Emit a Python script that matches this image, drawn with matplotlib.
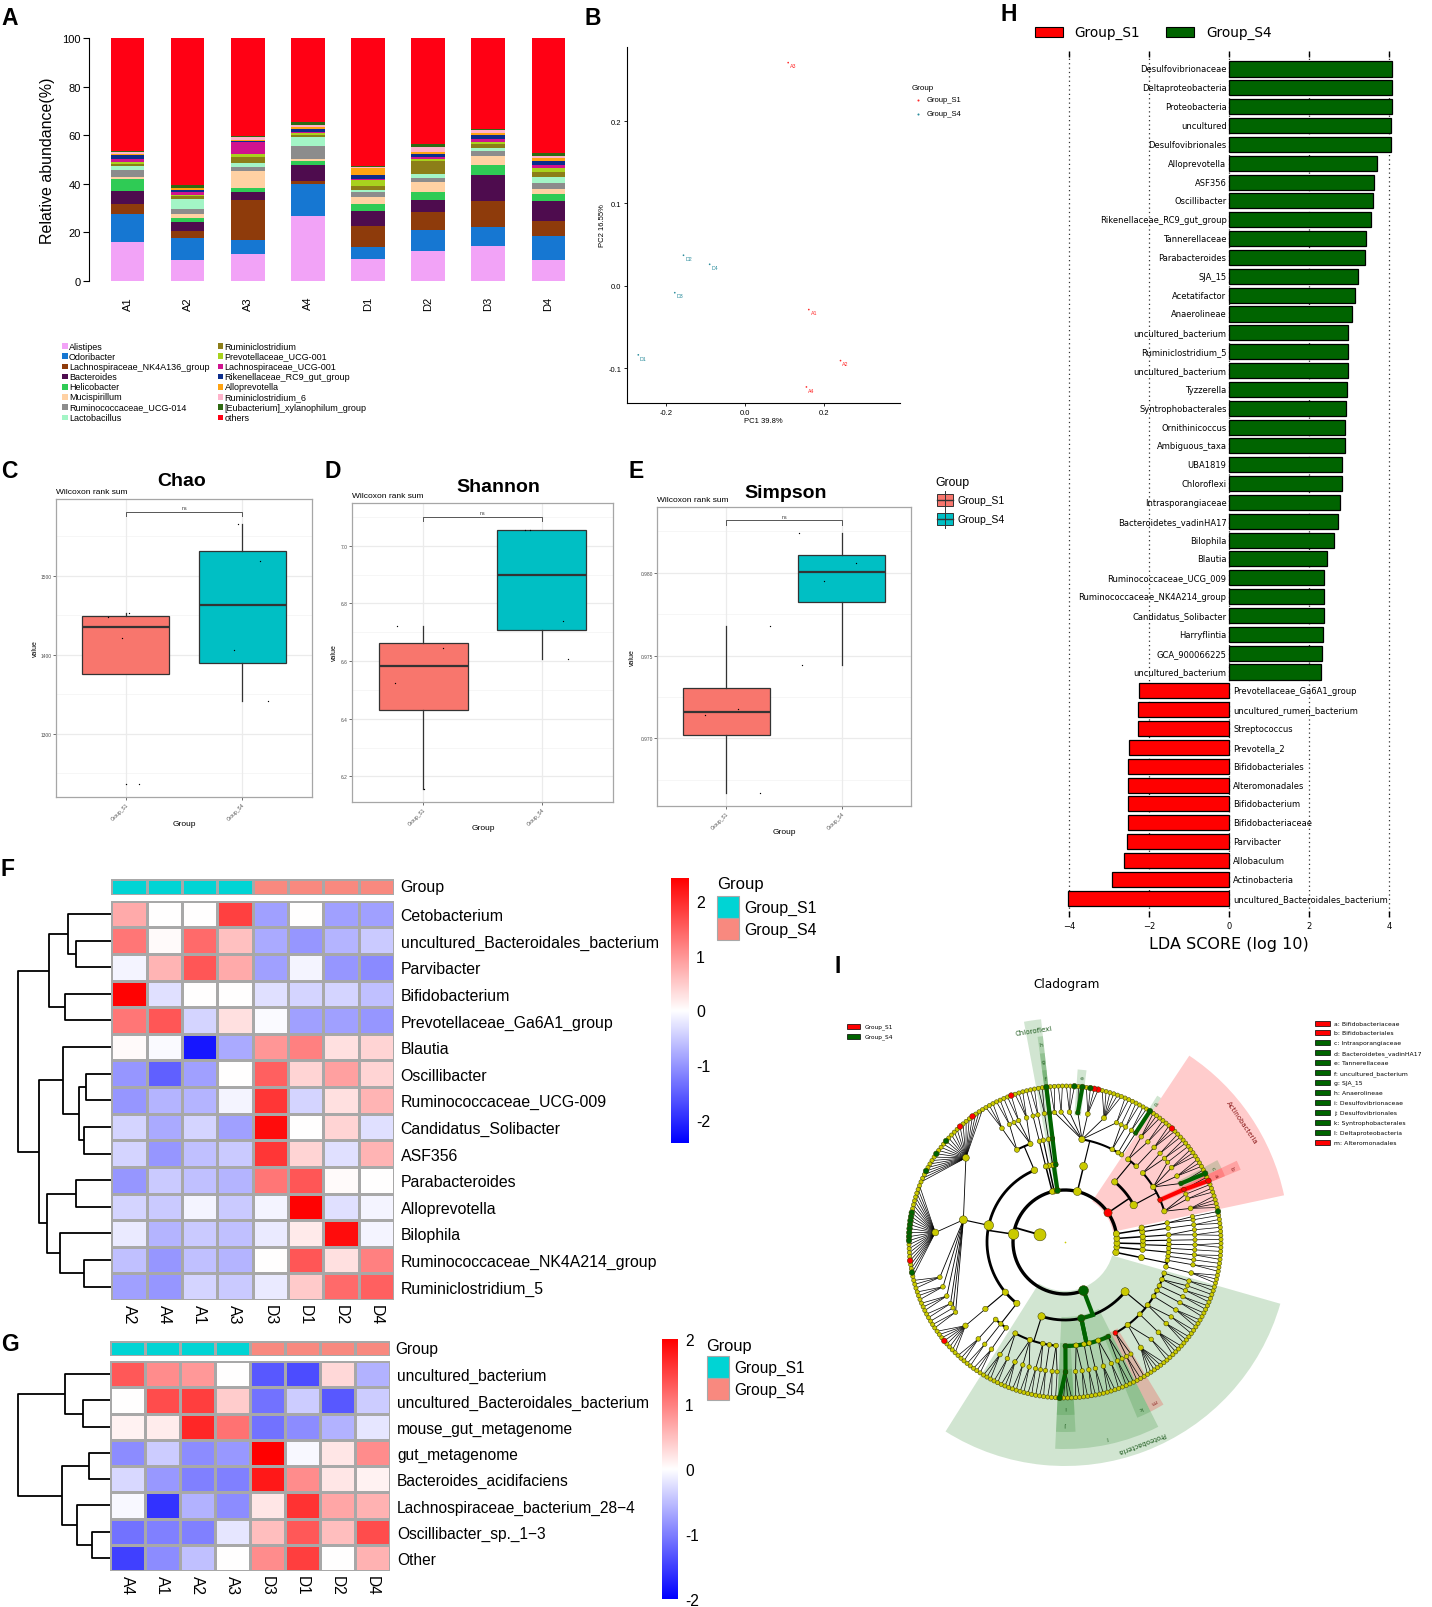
import numpy as np
import matplotlib
matplotlib.use("Agg")
import matplotlib.pyplot as plt
from matplotlib.patches import Rectangle, Wedge
from matplotlib.colors import LinearSegmentedColormap, ListedColormap
from matplotlib.ticker import FormatStrFormatter

W, H = 1432, 1608
plt.rcParams["font.family"] = ["Liberation Sans", "DejaVu Sans"]
plt.rcParams["axes.unicode_minus"] = False

# ---------------- A: relative abundance (genus level) ----------------
samples = ["A1", "A2", "A3", "A4", "D1", "D2", "D3", "D4"]
taxa = ["Alistipes", "Odoribacter", "Lachnospiraceae_NK4A136_group", "Bacteroides",
        "Helicobacter", "Mucispirillum", "Ruminococcaceae_UCG-014", "Lactobacillus",
        "Ruminiclostridium", "Prevotellaceae_UCG-001", "Lachnospiraceae_UCG-001",
        "Rikenellaceae_RC9_gut_group", "Alloprevotella", "Ruminiclostridium_6",
        "[Eubacterium]_xylanophilum_group", "others"]
taxa_colors = ["#F2A3F7", "#1677D2", "#8E3B0B", "#4E0C4E", "#2FCB55", "#FFD1A3",
               "#8C8C8C", "#A3F5C6", "#8C7E18", "#A8D21E", "#D0128F", "#0B2C8C",
               "#FFA312", "#FFB3CB", "#2E6A12", "#FF0014"]
abund = [
    [15.8, 8.4, 10.8, 26.6, 9.0, 12.2, 14.5, 8.5],
    [11.5, 9.0, 6.0, 13.2, 4.8, 8.5, 7.8, 10.0],
    [4.4, 3.2, 16.5, 1.4, 8.9, 7.8, 10.7, 6.1],
    [5.1, 3.6, 3.3, 6.3, 6.1, 4.7, 10.7, 8.4],
    [5.0, 1.8, 1.7, 2.0, 2.6, 3.3, 4.0, 2.8],
    [0.8, 1.5, 6.7, 0.8, 3.1, 4.0, 3.5, 2.1],
    [3.0, 2.0, 2.0, 5.2, 2.0, 2.0, 2.1, 2.3],
    [1.5, 4.3, 1.7, 3.8, 1.0, 1.5, 1.5, 2.6],
    [1.0, 1.0, 2.3, 0.7, 1.5, 5.5, 1.7, 2.0],
    [1.0, 0.7, 1.3, 0.8, 2.3, 0.8, 0.7, 1.7],
    [1.0, 1.0, 4.7, 0.4, 0.5, 0.7, 1.0, 1.1],
    [1.5, 0.8, 0.5, 1.3, 1.9, 1.3, 2.0, 1.8],
    [0.6, 0.7, 0.5, 0.8, 2.8, 0.7, 0.8, 1.1],
    [0.7, 0.4, 1.2, 1.0, 0.5, 2.2, 1.0, 1.0],
    [0.4, 0.9, 0.3, 1.0, 0.3, 1.0, 0.5, 1.1],
    [46.7, 60.7, 40.5, 34.7, 52.7, 43.8, 37.5, 47.4],
]

# ---------------- B: PCoA ----------------
pcoa_labels = ["A1", "A2", "A3", "A4", "D1", "D2", "D3", "D4"]
pc1 = [0.161, 0.241, 0.109, 0.155, -0.269, -0.155, -0.177, -0.089]
pc2 = [-0.029, -0.091, 0.271, -0.123, -0.084, 0.037, -0.0085, 0.026]
pcoa_group = ["Group_S1"] * 4 + ["Group_S4"] * 4

# ---------------- C-E: alpha diversity ----------------
chao_s1 = [1237, 1421, 1448, 1453]
chao_s4 = [1342, 1406, 1519, 1565]
shannon_s1 = [6.157, 6.523, 6.644, 6.723]
shannon_s4 = [6.607, 6.740, 7.055, 7.055]
simpson_s1 = [0.9667, 0.9714, 0.9718, 0.9768]
simpson_s4 = [0.9744, 0.9795, 0.9806, 0.9824]
chao_jit = ([0.11, -0.03, -0.15, 0.03], [0.22, -0.07, 0.15, -0.04])
shannon_jit = ([0.01, -0.24, 0.17, -0.22], [0.22, 0.18, -0.14, -0.10])
simpson_jit = ([0.29, -0.18, 0.10, 0.38], [-0.34, -0.15, 0.12, -0.37])

# ---------------- F / G: heatmaps ----------------
f_cols = ["A2", "A4", "A1", "A3", "D3", "D1", "D2", "D4"]
f_rows = ["Cetobacterium", "uncultured_Bacteroidales_bacterium", "Parvibacter",
          "Bifidobacterium", "Prevotellaceae_Ga6A1_group", "Blautia", "Oscillibacter",
          "Ruminococcaceae_UCG-009", "Candidatus_Solibacter", "ASF356", "Parabacteroides",
          "Alloprevotella", "Bilophila", "Ruminococcaceae_NK4A214_group", "Ruminiclostridium_5"]
f_vals = [
    [0.8, 0.0, 0.0, 1.8, -0.9, 0.0, -0.9, -0.9],
    [1.3, 0.05, 1.4, 0.6, -0.8, -1.0, -0.7, -0.5],
    [-0.1, 0.7, 1.6, 0.8, -0.9, -0.1, -1.0, -1.1],
    [2.4, -0.3, 0.0, 0.0, -0.3, -0.4, -0.4, -0.6],
    [1.3, 1.6, -0.4, 0.3, -0.05, -0.9, -0.9, -1.0],
    [0.05, -0.05, -2.2, -0.8, 1.0, 1.2, 0.3, 0.4],
    [-1.0, -1.5, -0.9, 0.0, 1.5, 0.4, 0.9, 0.4],
    [-1.0, -0.7, -0.7, -0.1, 1.9, -0.4, 0.3, 0.7],
    [-0.4, -0.8, -0.4, -0.9, 2.3, 0.0, 0.4, -0.3],
    [-0.4, -1.0, -0.6, -0.5, 1.9, 0.4, -0.3, 0.7],
    [-1.0, -0.5, -0.6, -0.7, 1.3, 1.6, 0.05, 0.0],
    [-0.4, -0.5, -0.1, -0.5, -0.1, 2.4, -0.3, -0.1],
    [-0.2, -0.7, -0.5, -0.6, -0.2, 0.2, 2.3, -0.1],
    [-0.6, -1.0, -0.6, -0.7, 0.0, 1.6, 0.3, 1.2],
    [-0.9, -1.0, -0.4, -0.5, -0.2, 0.5, 1.4, 1.5],
]
f_groups = ["Group_S1"] * 4 + ["Group_S4"] * 4
# merges: (left, right, height); ids >= n are earlier merges
f_merges = [(1, 2, 68), (0, 15, 83), (3, 4, 88), (16, 17, 118), (6, 7, 48), (8, 9, 53),
            (19, 20, 61), (5, 21, 93), (10, 11, 68), (13, 14, 53), (12, 24, 98),
            (23, 25, 123), (22, 26, 138), (18, 27, 178)]

g_cols = ["A4", "A1", "A2", "A3", "D3", "D1", "D2", "D4"]
g_rows = ["uncultured_bacterium", "uncultured_Bacteroidales_bacterium", "mouse_gut_metagenome",
          "gut_metagenome", "Bacteroides_acidifaciens", "Lachnospiraceae_bacterium_28\u22124",
          "Oscillibacter_sp._1\u22123", "Other"]
g_vals = [
    [1.3, 0.9, 0.8, 0.0, -1.3, -1.4, 0.3, -0.6],
    [0.0, 1.4, 1.5, 0.4, -1.1, -0.4, -1.3, -0.4],
    [0.1, 0.15, 1.7, 1.1, -1.1, -0.9, -0.6, -0.2],
    [-0.9, -0.4, -0.9, -0.8, 2.0, -0.05, 0.2, 0.9],
    [-0.3, -0.8, -1.0, -1.0, 1.8, 0.9, 0.2, 0.1],
    [-0.05, -1.6, -0.6, -0.9, 0.2, 1.6, 0.7, 0.6],
    [-1.1, -1.0, -1.0, -0.2, 0.5, 1.3, 0.5, 1.4],
    [-1.5, -0.9, -0.5, 0.0, 0.9, 1.5, 0.0, 0.6],
]
g_groups = ["Group_S1"] * 4 + ["Group_S4"] * 4
g_merges = [(1, 2, 52), (0, 8, 85), (3, 4, 40), (6, 7, 35), (5, 11, 62), (10, 12, 92), (9, 13, 175)]

# ---------------- H: LEfSe LDA ----------------
lda_taxa = ["Desulfovibrionaceae", "Deltaproteobacteria", "Proteobacteria", "uncultured",
            "Desulfovibrionales", "Alloprevotella", "ASF356", "Oscillibacter",
            "Rikenellaceae_RC9_gut_group", "Tannerellaceae", "Parabacteroides", "SJA_15",
            "Acetatifactor", "Anaerolineae", "uncultured_bacterium", "Ruminiclostridium_5",
            "uncultured_bacterium", "Tyzzerella", "Syntrophobacterales", "Ornithinicoccus",
            "Ambiguous_taxa", "UBA1819", "Chloroflexi", "Intrasporangiaceae",
            "Bacteroidetes_vadinHA17", "Bilophila", "Blautia", "Ruminococcaceae_UCG_009",
            "Ruminococcaceae_NK4A214_group", "Candidatus_Solibacter", "Harryflintia",
            "GCA_900066225", "uncultured_bacterium", "Prevotellaceae_Ga6A1_group",
            "uncultured_rumen_bacterium", "Streptococcus", "Prevotella_2", "Bifidobacteriales",
            "Alteromonadales", "Bifidobacterium", "Bifidobacteriaceae", "Parvibacter",
            "Allobaculum", "Actinobacteria", "uncultured_Bacteroidales_bacterium"]
lda_score = [4.08, 4.075, 4.075, 4.06, 4.06, 3.69, 3.63, 3.60, 3.56, 3.42, 3.41, 3.22,
             3.16, 3.08, 2.98, 2.975, 2.97, 2.95, 2.92, 2.91, 2.89, 2.83, 2.83, 2.78,
             2.73, 2.62, 2.46, 2.38, 2.375, 2.37, 2.35, 2.33, 2.29,
             -2.26, -2.28, -2.29, -2.51, -2.52, -2.52, -2.52, -2.53, -2.56, -2.64, -2.93, -4.03]

# ---------------- I: cladogram ----------------
clado_phyla = ["Tenericutes", "Verrucomicrobia", "Patescibacteria", "Epsilonbacteraeota",
               "Acidobacteria", "Actinobacteria", "Bacteroidetes", "Chloroflexi",
               "Cyanobacteria", "Deferribacteres", "Firmicutes", "Proteobacteria"]
# phylum -> classes -> orders -> families (genus counts)
clado_tree = [
    [[[3], [2], [1]]],
    [[[2]]],
    [[[1], [2]], [[1]]],
    [[[2, 1]]],
    [[[2]], [[1, 1]]],
    [[[4, 2, 1], [2], [2, 3, 3, 1], [2, 2]], [[3], [2, 3]]],
    [[[1], [2], [2, 1], [2, 6, 4, 2, 3, 2, 2]]],
    [[[1]], [[2]]],
    [[[2]]],
    [[[1]]],
    [[[3, 2, 1], [2, 3]], [[25, 24, 3, 3, 3, 2, 1, 2]], [[8]], [[3], [2], [3]]],
    [[[3, 2], [3, 2, 2], [2, 1], [2], [2, 1]],
     [[4], [2, 2], [2], [2], [3, 2], [2, 1]],
     [[2, 1], [6, 2], [4], [3, 2], [3], [2], [2], [2, 1], [2]]],
]
clade_marks = [
    (("Actinobacteria",), "S1", "Actinobacteria"),
    (("Actinobacteria", 0, 1), "S1", "b"),
    (("Actinobacteria", 0, 1, 0), "S1", "a"),
    (("Actinobacteria", 0, 2, 0), "S4", "c"),
    (("Bacteroidetes", 0, 0, 0), "S4", "d"),
    (("Bacteroidetes", 0, 3, 3), "S4", "e"),
    (("Chloroflexi",), "S4", "Chloroflexi"),
    (("Chloroflexi", 0), "S4", "h"),
    (("Chloroflexi", 0, 0), "S4", "g"),
    (("Chloroflexi", 0, 0, 0), "S4", "f"),
    (("Proteobacteria",), "S4", "Proteobacteria"),
    (("Proteobacteria", 1), "S4", "l"),
    (("Proteobacteria", 1, 0), "S4", "j"),
    (("Proteobacteria", 1, 0, 0), "S4", "i"),
    (("Proteobacteria", 1, 5), "S4", "k"),
    (("Proteobacteria", 2, 0), "S1", "m"),
]
node_marks = [
    (("Actinobacteria", 0, 1, 0, 0), "S1"), (("Actinobacteria", 0, 2, 0, 0), "S4"),
    (("Actinobacteria", 1, 0, 0, 1), "S1"), (("Acidobacteria", 1, 0, 1, 0), "S4"),
    (("Bacteroidetes", 0, 0, 0, 0), "S4"), (("Bacteroidetes", 0, 3, 2, 0), "S1"),
    (("Bacteroidetes", 0, 3, 2, 1), "S1"), (("Bacteroidetes", 0, 3, 2, 2), "S4"),
    (("Bacteroidetes", 0, 3, 3, 0), "S4"), (("Bacteroidetes", 0, 3, 4, 0), "S4"),
    (("Chloroflexi", 0, 0, 0, 0), "S4"), (("Firmicutes", 0, 0, 1, 0), "S1"),
    (("Firmicutes", 1, 0, 0, 3), "S1"), (("Firmicutes", 1, 0, 0, 7), "S1"),
    (("Firmicutes", 1, 0, 0, 12), "S4"), (("Firmicutes", 1, 0, 0, 16), "S4"),
    (("Firmicutes", 1, 0, 0, 21), "S4"), (("Firmicutes", 1, 0, 1, 7), "S4"),
    (("Firmicutes", 1, 0, 1, 8), "S4"), (("Firmicutes", 1, 0, 1, 9), "S4"),
    (("Firmicutes", 1, 0, 1, 10), "S4"), (("Firmicutes", 1, 0, 1, 11), "S4"),
    (("Firmicutes", 1, 0, 1, 12), "S4"), (("Firmicutes", 1, 0, 1, 13), "S4"),
    (("Firmicutes", 1, 0, 1, 14), "S4"), (("Firmicutes", 1, 0, 1, 19), "S1"),
    (("Firmicutes", 1, 0, 1, 22), "S4"), (("Firmicutes", 2, 0, 0, 3), "S1"),
    (("Proteobacteria", 1, 0, 0, 0), "S4"),
]
clado_legend = ["a: Bifidobacteriaceae", "b: Bifidobacteriales", "c: Intrasporangiaceae",
                "d: Bacteroidetes_vadinHA17", "e: Tannerellaceae", "f: uncultured_bacterium",
                "g: SJA_15", "h: Anaerolineae", "i: Desulfovibrionaceae", "j: Desulfovibrionales",
                "k: Syntrophobacterales", "l: Deltaproteobacteria", "m: Alteromonadales"]
clado_legend_grp = ["S1", "S1", "S4", "S4", "S4", "S4", "S4", "S4", "S4", "S4", "S4", "S4", "S1"]

# ======================================================================
fig = plt.figure(figsize=(W / 100, H / 100), dpi=100)


def add_ax(x0, y0, x1, y1):
    return fig.add_axes([x0 / W, 1 - y1 / H, (x1 - x0) / W, (y1 - y0) / H])


S1_BOX, S4_BOX = "#F8766D", "#00BFC4"
HM_S1, HM_S4 = "#00D4D4", "#F8897F"
LF_RED, LF_GREEN = "#FF0000", "#006400"

# ---- A ----
axA = add_ax(89, 39, 566.5, 281.7)
xa = np.arange(len(samples))
bottom = np.zeros(len(samples))
for name, col, vals in zip(taxa, taxa_colors, abund):
    axA.bar(xa, vals, width=0.56, bottom=bottom, color=col, linewidth=0)
    bottom = bottom + np.array(vals)
axA.set_xlim(-0.64, 7.3)
axA.set_ylim(0, 100)
for s in ["top", "right", "bottom"]:
    axA.spines[s].set_visible(False)
axA.spines["left"].set_linewidth(0.8)
axA.set_yticks([0, 20, 40, 60, 80, 100])
axA.tick_params(axis="y", length=4, width=0.8, labelsize=8, pad=2)
axA.set_xticks(xa, samples, rotation=90)
axA.tick_params(axis="x", length=0, labelsize=8, pad=11)
axA.set_ylabel("Relative abundance(%)", fontsize=11.5, labelpad=5)

# ---- B ----
axB = add_ax(627, 48, 900, 404)
pt_cols = ["#FF2A2A" if g == "Group_S1" else "#2A8C9C" for g in pcoa_group]
axB.scatter(pc1, pc2, s=1.5, c=pt_cols, zorder=3, linewidths=0)
for x, y, lab, c in zip(pc1, pc2, pcoa_labels, pt_cols):
    axB.annotate(lab, (x, y), xytext=(1.3, -2.3), textcoords="offset points",
                 fontsize=3.8, color=c, ha="left", va="center")
axB.set_xlim(-0.2975, 0.391)
axB.set_ylim(-0.1425, 0.29)
axB.set_xticks([-0.2, 0.0, 0.2])
axB.set_yticks([-0.1, 0.0, 0.1, 0.2])
axB.xaxis.set_major_formatter(FormatStrFormatter("%.1f"))
axB.yaxis.set_major_formatter(FormatStrFormatter("%.1f"))
for s in ["top", "right"]:
    axB.spines[s].set_visible(False)
for s in ["left", "bottom"]:
    axB.spines[s].set_linewidth(0.8)
axB.tick_params(labelsize=5.5, length=2.5, width=0.6, pad=1.5)
axB.set_xlabel("PC1 39.8%", fontsize=5.5, labelpad=1)
axB.set_ylabel("PC2 16.55%", fontsize=5.5, labelpad=2)


# ---- C, D, E ----
def alpha_panel(box, s1, s4, jit, ylim, ticks, minor, fmt, br_y, br_tip):
    ax = add_ax(*box)
    for t in minor:
        ax.axhline(t, color="#F3F3F3", lw=0.5, zorder=0)
    for t in ticks:
        ax.axhline(t, color="#EBEBEB", lw=0.9, zorder=0)
    for xv in (1, 2):
        ax.axvline(xv, color="#EBEBEB", lw=0.9, zorder=0)
    bp = ax.boxplot([s1, s4], positions=[1, 2], widths=0.75, patch_artist=True, whis=1.5,
                    boxprops=dict(edgecolor="#333333", linewidth=0.9),
                    medianprops=dict(color="#333333", linewidth=1.6),
                    whiskerprops=dict(color="#333333", linewidth=0.9),
                    capprops=dict(linewidth=0),
                    flierprops=dict(marker="o", markersize=1.0, markerfacecolor="black",
                                    markeredgewidth=0))
    for patch, col in zip(bp["boxes"], [S1_BOX, S4_BOX]):
        patch.set_facecolor(col)
    for pos, vals, jj in zip([1, 2], [s1, s4], jit):
        ax.scatter(pos + np.array(jj), vals, s=0.9, color="black", zorder=4, linewidths=0)
    ax.plot([1, 1, 2, 2], [br_y - br_tip, br_y, br_y, br_y - br_tip], color="#555555", lw=0.7)
    ax.text(1.5, br_y + br_tip * 0.4, "ns", fontsize=3.8, ha="center", va="bottom", color="#333333")
    ax.set_xlim(0.4, 2.6)
    ax.set_ylim(*ylim)
    ax.set_yticks(ticks, [fmt % t for t in ticks])
    ax.set_xticks([1, 2], ["Group_S1", "Group_S4"], rotation=45, ha="right", rotation_mode="anchor")
    ax.tick_params(length=2, width=0.5, color="#333333", labelsize=3.5, labelcolor="#4D4D4D", pad=1)
    for s in ax.spines.values():
        s.set_color("#A6A6A6")
        s.set_linewidth(0.9)
    return ax


alpha_panel((56, 500, 312, 798), chao_s1, chao_s4, chao_jit, (1220, 1596.8),
            [1300, 1400, 1500], [1250, 1350, 1450, 1550], "%d", 1580.8, 5.8)
alpha_panel((352, 504, 613, 803), shannon_s1, shannon_s4, shannon_jit, (6.111, 7.148),
            [6.2, 6.4, 6.6, 6.8, 7.0], [6.1, 6.3, 6.5, 6.7, 6.9, 7.1], "%.1f", 7.10, 0.014)
alpha_panel((657, 508, 911, 807), simpson_s1, simpson_s4, simpson_jit, (0.96592, 0.98396),
            [0.970, 0.975, 0.980], [0.9675, 0.9725, 0.9775, 0.9825], "%.3f", 0.98316, 0.00026)

# ---- F / G heatmaps ----
cmap_hm = LinearSegmentedColormap.from_list("bwr_pure", ["#0000FF", "#FFFFFF", "#FF0000"])
grp_cmap = ListedColormap([HM_S1, HM_S4])


def heatmap(box, ann_box, vals, rows, cols, groups, vlim, fs):
    ax = add_ax(*box)
    ax.pcolormesh(np.array(vals), cmap=cmap_hm, vmin=-vlim, vmax=vlim,
                  edgecolors="#A8A8A8", linewidth=0.8)
    ax.set_xlim(0, len(cols))
    ax.set_ylim(len(rows), 0)
    ax.yaxis.tick_right()
    ax.set_yticks(np.arange(len(rows)) + 0.5, rows)
    ax.set_xticks(np.arange(len(cols)) + 0.5, cols, rotation=270)
    ax.tick_params(axis="y", length=0, labelsize=fs, pad=5)
    ax.tick_params(axis="x", length=0, labelsize=fs, pad=3)
    for s in ax.spines.values():
        s.set_visible(False)
    axa = add_ax(*ann_box)
    codes = np.array([[0 if g == "Group_S1" else 1 for g in groups]])
    axa.pcolormesh(codes, cmap=grp_cmap, vmin=0, vmax=1, edgecolors="#A8A8A8", linewidth=0.8)
    axa.set_xlim(0, len(cols))
    axa.set_ylim(1, 0)
    axa.axis("off")


def dendro(box, merges, n):
    ax = add_ax(*box)
    pos = {i: i + 0.5 for i in range(n)}
    hgt = {i: 0.0 for i in range(n)}
    for k, (a, b, h) in enumerate(merges):
        ya, yb = pos[a], pos[b]
        ax.plot([hgt[a], h, h, hgt[b]], [ya, ya, yb, yb], color="black", lw=1.3,
                solid_capstyle="butt", clip_on=False)
        pos[n + k] = (ya + yb) / 2
        hgt[n + k] = h
    ax.set_xlim(merges[-1][2], 0)
    ax.set_ylim(n, 0)
    ax.axis("off")


def colorbar(box, vlim, ticks, fs):
    ax = add_ax(*box)
    grad = np.linspace(vlim, -vlim, 256)[:, None]
    ax.imshow(grad, cmap=cmap_hm, vmin=-vlim, vmax=vlim, aspect="auto",
              extent=[0, 1, -vlim, vlim])
    ax.set_xticks([])
    ax.yaxis.tick_right()
    ax.set_yticks(ticks, ["%d" % t for t in ticks])
    ax.tick_params(length=0, labelsize=fs, pad=5)
    for s in ax.spines.values():
        s.set_visible(False)


heatmap((111.4, 901.7, 393.8, 1301), (111.4, 880, 393.8, 896), f_vals, f_rows, f_cols,
        f_groups, 2.42, 11.4)
dendro((18, 901.7, 111.4, 1301), f_merges, len(f_rows))
colorbar((671, 879, 689, 1144), 2.42, [-2, -1, 0, 1, 2], 11.4)

heatmap((110, 1362, 390, 1572), (110, 1342, 390, 1357), g_vals, g_rows, g_cols,
        g_groups, 2.0, 11.2)
dendro((18, 1362, 110, 1572), g_merges, len(g_rows))
colorbar((662, 1340, 678, 1600), 2.0, [-2, -1, 0, 1, 2], 11.2)

# ---- H: LDA ----
axH = add_ax(1040, 52, 1400, 918)
yy = np.arange(len(lda_taxa))
bar_cols = [LF_GREEN if v > 0 else LF_RED for v in lda_score]
axH.barh(yy, lda_score, height=0.8, color=bar_cols, edgecolor="black", linewidth=0.9, zorder=3)
axH.set_ylim(45.0, -0.955)
axH.set_xlim(-4.733, 4.275)
for s in axH.spines.values():
    s.set_visible(False)
axH.set_yticks([])
axH.set_xticks([-4, -2, 0, 2, 4], ["\u22124", "\u22122", "0", "2", "4"])
axH.tick_params(axis="x", top=True, bottom=True, direction="in", length=4.3, width=1.0,
                labelsize=6, pad=3)
for lab in axH.get_xticklabels():
    lab.set_fontfamily("DejaVu Sans")
axH.grid(axis="x", linestyle=(0, (1, 2.5)), color="#333333", lw=0.9, zorder=0)
axH.set_axisbelow(True)
for y, v, name in zip(yy, lda_score, lda_taxa):
    if v > 0:
        axH.text(-0.065, y, name, ha="right", va="center", fontsize=6.0, family="DejaVu Sans")
    else:
        axH.text(0.1, y, name, ha="left", va="center", fontsize=6.0, family="DejaVu Sans")

# ---- I: cladogram ----
CX, CY = 1065, 1243
axI = add_ax(830, 1000, 1310, 1480)
axI.set_xlim(830 - CX, 1310 - CX)
axI.set_ylim(CY - 1480, CY - 1000)
axI.axis("off")

n_leaves = 0
stack = [clado_tree]
while stack:
    it = stack.pop()
    if isinstance(it, int):
        n_leaves += it
    else:
        stack.extend(it)
clado_start = -16.0
step = 360.0 / n_leaves
RING = 26.0
nodes = []
leaf_count = [0]


def place(item, level, path):
    me = len(nodes)
    nodes.append(None)
    kids = []
    if isinstance(item, int):
        for g in range(item):
            th = clado_start + (leaf_count[0] + 0.5) * step
            leaf_count[0] += 1
            kids.append(len(nodes))
            nodes.append(dict(level=level + 1, theta=th, path=path + (g,), kids=[], leaves=[th]))
    else:
        for k, ch in enumerate(item):
            kids.append(place(ch, level + 1, path + (k,)))
    leaves = [t for kk in kids for t in nodes[kk]["leaves"]]
    nodes[me] = dict(level=level, theta=float(np.mean(leaves)), path=path, kids=kids, leaves=leaves)
    return me


place(clado_tree, 0, ())
by_path = {nd["path"]: nd for nd in nodes}


def to_path(p):
    return (clado_phyla.index(p[0]),) + tuple(p[1:])


node_grp = {}
for p, g, lab in clade_marks:
    node_grp[to_path(p)] = g
for p, g in node_marks:
    node_grp[to_path(p)] = g
grp_col = {"S1": LF_RED, "S4": LF_GREEN}


def rad(level):
    return RING * (level + 1)


def pxy(theta, r):
    t = np.deg2rad(theta)
    return r * np.cos(t), r * np.sin(t)


# shaded clades
wedge_out = {1: 224, 2: 207, 3: 190, 4: 173}
label_r = {1: 214, 2: 199, 3: 182, 4: 165}
for p, g, lab in sorted(clade_marks, key=lambda m: len(m[0])):
    nd = by_path[to_path(p)]
    lv = nd["level"]
    t0 = min(nd["leaves"]) - step / 2
    t1 = max(nd["leaves"]) + step / 2
    r_in = rad(lv) - 3
    fc = "#FF0000" if g == "S1" else "#2E8B2E"
    al = 0.2 if g == "S1" else 0.22
    axI.add_patch(Wedge((0, 0), wedge_out[lv], t0, t1, width=wedge_out[lv] - r_in,
                        facecolor=fc, alpha=al, linewidth=0, zorder=1))
    mid = (t0 + t1) / 2
    lx, ly = pxy(mid, label_r[lv])
    tcol = "#8B1A1A" if g == "S1" else "#1E5A1E"
    axI.text(lx, ly, lab, rotation=mid - 90, rotation_mode="anchor", ha="center", va="center",
             fontsize=5 if lv == 1 else 4.3, color=tcol, family="DejaVu Sans", zorder=2)

# edges
arc_lw = {0: 2.4, 1: 2.0, 2: 1.5}
for nd in nodes:
    if not nd["kids"]:
        continue
    lv = nd["level"]
    rp, rc = rad(lv), rad(lv + 1)
    kids = [nodes[k] for k in nd["kids"]]
    pg = node_grp.get(nd["path"])
    if lv <= 2:
        lw = arc_lw[lv]
        ths = [k["theta"] for k in kids]
        a0, a1 = min(ths + [nd["theta"]]), max(ths + [nd["theta"]])
        tt = np.linspace(a0, a1, max(2, int(a1 - a0) * 2 + 2))
        xs, ys = pxy(tt, rc)
        axI.plot(xs, ys, color="black", lw=lw, zorder=3, solid_capstyle="butt")
        x0, y0 = pxy(nd["theta"], rp)
        x1, y1 = pxy(nd["theta"], rc)
        axI.plot([x0, x1], [y0, y1], color="black", lw=lw * 0.55, zorder=3)
        for k in kids:
            cg = node_grp.get(k["path"])
            if pg is not None and cg == pg:
                tt = np.linspace(min(nd["theta"], k["theta"]), max(nd["theta"], k["theta"]), 20)
                xs, ys = pxy(tt, rc)
                axI.plot(xs, ys, color=grp_col[cg], lw=3.0, zorder=4)
                axI.plot([x0, x1], [y0, y1], color=grp_col[cg], lw=3.0, zorder=4)
    else:
        x0, y0 = pxy(nd["theta"], rp)
        for k in kids:
            x1, y1 = pxy(k["theta"], rc)
            cg = node_grp.get(k["path"])
            if pg is not None and cg == pg:
                axI.plot([x0, x1], [y0, y1], color=grp_col[cg], lw=3.0, zorder=4)
            else:
                axI.plot([x0, x1], [y0, y1], color="black", lw=0.6 if lv == 3 else 0.5, zorder=3)

# nodes
max_leaves = {}
for nd in nodes:
    max_leaves[nd["level"]] = max(max_leaves.get(nd["level"], 1), len(nd["leaves"]))
dmin = {0: 12, 1: 5.0, 2: 4.5, 3: 4.0, 4: 3.6, 5: 4.2}
dmax = {0: 12, 1: 10.5, 2: 9.5, 3: 8.0, 4: 6.8, 5: 4.2}
for colored in (False, True):
    xs, ys, ss, cs = [], [], [], []
    for nd in nodes:
        g = node_grp.get(nd["path"])
        if (g is not None) != colored:
            continue
        lv = nd["level"]
        d = dmin[lv] + (dmax[lv] - dmin[lv]) * np.sqrt(len(nd["leaves"]) / max_leaves[lv])
        if colored and lv == 5:
            d = 5.6
        x, y = pxy(nd["theta"], rad(lv))
        xs.append(x)
        ys.append(y)
        ss.append((d * 0.72) ** 2)
        cs.append(grp_col[g] if colored else "#CACA00")
    axI.scatter(xs, ys, s=ss, c=cs, edgecolors="#3A3A00", linewidths=0.35, zorder=6 if colored else 5)
axI.scatter([0], [0], s=1.5, c="#CACA00", zorder=5, linewidths=0)

# ======================================================================
ov = fig.add_axes([0, 0, 1, 1])
ov.set_xlim(0, W)
ov.set_ylim(H, 0)
ov.axis("off")
ov.set_facecolor("none")

for letter, (x, y) in {"A": (1, 7), "B": (585, 7), "C": (1, 460), "D": (324, 460),
                       "E": (628, 460), "F": (1, 858), "G": (1, 1333), "H": (1000, 3),
                       "I": (834, 955)}.items():
    ov.text(x, y, letter, fontsize=16.5, fontweight="bold", ha="left", va="top")

# A legend
for i, (name, col) in enumerate(zip(taxa, taxa_colors)):
    cx = 62 if i < 8 else 217.5
    cy = 347 + 10.2 * (i % 8)
    ov.add_patch(Rectangle((cx, cy - 2.8), 5.6, 5.6, facecolor=col, linewidth=0))
    ov.text(cx + 7, cy, name, fontsize=6.5, ha="left", va="center")

# B legend
ov.text(912, 88, "Group", fontsize=5.8, ha="left", va="center")
for i, (lab, col) in enumerate([("Group_S1", "#FF2A2A"), ("Group_S4", "#2A8C9C")]):
    ov.scatter([918], [101 + 14 * i], s=2.2, c=col, linewidths=0)
    ov.text(927, 101 + 14 * i, lab, fontsize=5.5, ha="left", va="center")

# C-E titles
for title, tx, ty, sx, sy, gx, gy, vx, vy in [
        ("Chao", 182, 481, 56, 492, 184, 825, 35, 649),
        ("Shannon", 498, 488, 352, 497, 483, 829, 334, 653),
        ("Simpson", 786, 493, 657, 501, 784, 833, 632, 658)]:
    ov.text(tx, ty, title, fontsize=14, fontweight="bold", ha="center", va="center")
    ov.text(sx, sy, "Wilcoxon rank sum", fontsize=6, ha="left", va="center")
    ov.text(gx, gy, "Group", fontsize=6, ha="center", va="center")
    ov.text(vx, vy, "value", fontsize=5, ha="center", va="center", rotation=90)
ov.text(935, 483, "Group", fontsize=8.8, ha="left", va="center")
for i, (lab, col) in enumerate([("Group_S1", S1_BOX), ("Group_S4", S4_BOX)]):
    yc = 501 + 19 * i
    ov.plot([945, 945], [yc - 9, yc + 9], color="#333333", lw=0.7)
    ov.add_patch(Rectangle((937, yc - 6), 16, 12, facecolor=col, edgecolor="#333333", lw=0.7))
    ov.plot([937, 953], [yc, yc], color="#333333", lw=1.0)
    ov.text(957, yc, lab, fontsize=7.5, ha="left", va="center")

# F / G group labels and legends
ov.text(400, 888, "Group", fontsize=11.4, ha="left", va="center")
ov.text(395, 1350, "Group", fontsize=11.2, ha="left", va="center")
for (gx, gy, sx, sy), fs in [((717, 885, 717, 897), 11.4), ((706, 1347, 707, 1357), 11.2)]:
    ov.text(gx, gy, "Group", fontsize=fs + 0.6, ha="left", va="center")
    for i, (lab, col) in enumerate([("Group_S1", HM_S1), ("Group_S4", HM_S4)]):
        ov.add_patch(Rectangle((sx, sy + 22 * i), 22, 22, facecolor=col, edgecolor="#A8A8A8", lw=0.8))
        ov.text(sx + 27, sy + 11 + 22 * i, lab, fontsize=fs, ha="left", va="center")

# H legend and x label
for x0, tx, lab, col in [(1035, 1074, "Group_S1", LF_RED), (1166, 1206, "Group_S4", LF_GREEN)]:
    ov.add_patch(Rectangle((x0, 28), 28, 10, facecolor=col, edgecolor="black", lw=0.8))
    ov.text(tx, 33, lab, fontsize=9.8, ha="left", va="center", family="DejaVu Sans")
ov.text(1229, 945, "LDA SCORE (log 10)", fontsize=11.5, ha="center", va="center", family="DejaVu Sans")

# I title and legends
ov.text(1067, 985, "Cladogram", fontsize=8.7, ha="center", va="center", family="DejaVu Sans")
for i, (lab, col) in enumerate([("Group_S1", LF_RED), ("Group_S4", LF_GREEN)]):
    ov.add_patch(Rectangle((847, 1024.5 + 10 * i), 13, 5, facecolor=col, edgecolor="black", lw=0.5))
    ov.text(865, 1027 + 10 * i, lab, fontsize=4.2, ha="left", va="center", family="DejaVu Sans")
for i, (lab, g) in enumerate(zip(clado_legend, clado_legend_grp)):
    yc = 1024 + 9.94 * i
    ov.add_patch(Rectangle((1315, yc - 2.5), 15, 5, facecolor=grp_col[g], edgecolor="black", lw=0.5))
    ov.text(1334, yc, lab, fontsize=4.4, ha="left", va="center", family="DejaVu Sans")

fig.savefig("out.png", dpi=100)
